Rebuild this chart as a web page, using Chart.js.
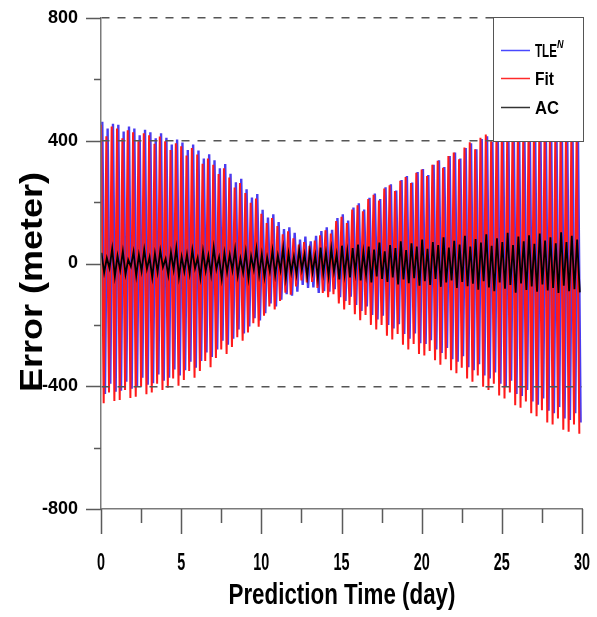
<!DOCTYPE html>
<html><head><meta charset="utf-8">
<script src="https://cdn.jsdelivr.net/npm/chart.js@4.4.1/dist/chart.umd.min.js"></script>
<style>html,body{margin:0;padding:0;background:#fff;}canvas{display:block;}</style>
</head><body>
<canvas id="c" width="597" height="617"></canvas>
<script>
// ---- data (3 oscillation cycles per day, one peak + one trough per cycle) ----
const cyclesPerDay = 3;
const fitTop = [
452,415,446, 440,408,434, 428,398,424, 418,390,414, 398,370,392, 382,352,376,
355,325,342, 322,292,310, 280,248,262, 230,198,212, 162,132,148, 122,95,105,
82,62,70, 58,75,92, 108,98,138, 152,132,176, 190,170,210, 224,205,244,
255,236,270, 282,262,296, 306,285,322, 335,312,350, 362,340,378, 395,372,410,
420,398,425, 428,402,432, 430,405,434, 432,408,436, 434,410,438, 436,412,432];
const fitBot = [
-455,-420,-448, -445,-412,-438, -434,-402,-426, -420,-392,-412, -405,-375,-398, -380,-350,-372,
-350,-318,-338, -308,-280,-295, -272,-240,-252, -225,-195,-206, -170,-140,-150, -122,-95,-102,
-75,-55,-62, -60,-80,-96, -110,-100,-130, -150,-135,-165, -185,-168,-200, -215,-200,-235,
-248,-230,-265, -280,-262,-295, -300,-285,-315, -330,-312,-348, -358,-340,-375, -385,-365,-402,
-412,-392,-430, -440,-420,-462, -470,-450,-488, -498,-478,-518, -525,-505,-542, -548,-525,-555];
const tleTop = [
462,440,455, 452,430,446, 440,418,436, 428,408,424, 410,388,404, 394,370,388,
368,342,356, 336,310,324, 292,265,276, 242,215,226, 175,150,160, 135,112,118,
100,78,88, 72,90,106, 118,110,148, 160,140,182, 196,176,214, 228,210,248,
258,238,272, 285,264,298, 308,288,322, 336,314,350, 362,342,376, 392,372,406,
415,396,420, 422,400,426, 424,402,428, 426,404,430, 428,406,430, 430,408,428];
const tleBot = [
-425,-392,-418, -415,-385,-408, -402,-372,-395, -390,-362,-382, -372,-345,-365, -348,-320,-340,
-318,-290,-305, -280,-252,-265, -245,-215,-228, -205,-178,-186, -162,-130,-140, -118,-100,-105,
-92,-70,-80, -78,-96,-90, -92,-84,-110, -122,-108,-135, -155,-140,-168, -182,-170,-200,
-212,-198,-230, -245,-228,-260, -262,-250,-280, -292,-275,-312, -320,-302,-338, -348,-328,-365,
-375,-355,-392, -402,-382,-425, -432,-412,-450, -460,-440,-480, -488,-468,-505, -510,-488,-518];
const acTop = [
35,18,48, 25,40,12, 38,28,45, 20,32,42, 15,36,50, 22,30,44,
18,40,26, 52,20,34, 28,46,16, 38,24,48, 30,20,42, 26,50,32,
22,44,30, 40,26,52, 35,48,30, 58,40,50, 62,38,55, 45,68,40,
60,50,72, 44,66,55, 78,48,70, 60,85,52, 74,62,90, 55,80,68,
95,58,82, 70,100,60, 88,72,92, 64,98,75, 85,66,102, 70,90,78];
const acBot = [
-30,-15,-42, -22,-35,-10, -40,-25,-18, -45,-28,-12, -38,-20,-44, -26,-32,-16,
-46,-24,-36, -18,-50,-28, -22,-40,-30, -48,-20,-36, -44,-26,-38, -22,-46,-30,
-35,-20,-42, -28,-48,-32, -40,-26,-52, -36,-45,-30, -55,-38,-62, -42,-50,-60,
-45,-68,-52, -64,-48,-72, -58,-70,-50, -76,-62,-55, -80,-60,-74, -66,-85,-58,
-78,-90,-62, -82,-70,-95, -65,-86,-75, -92,-68,-88, -80,-96,-72, -90,-84,-94];
const yTickLabels = [-800, -400, 0, 400, 800];
const xTickLabels = [0, 5, 10, 15, 20, 25, 30];
const dashedLevels = [800, 400, -400];
const seriesNames = ['TLE', 'Fit', 'AC'];
const xTitle = 'Prediction Time (day)';
const yTitle = 'Error (meter)';

function zigzag(top, bot, shift) {
  const pts = [];
  for (let i = 0; i < top.length; i++) {
    const t = i / cyclesPerDay + shift;
    pts.push({x: t, y: top[i]});
    pts.push({x: t + 0.5 / cyclesPerDay, y: bot[i]});
  }
  return pts;
}

function drawText(ctx, s, x, y, font, sx, align) {
  ctx.save();
  ctx.font = font;
  ctx.translate(x, y);
  ctx.scale(sx, 1);
  ctx.textAlign = align || 'center';
  ctx.textBaseline = 'alphabetic';
  ctx.fillStyle = '#000';
  ctx.fillText(s, 0, 0);
  ctx.restore();
}
function fitWidth(ctx, s, font, w) { ctx.save(); ctx.font = font; const m = ctx.measureText(s).width; ctx.restore(); return w / m; }

const decor = {
  id: 'decor',
  afterDraw(chart) {
    const ctx = chart.ctx, xs = chart.scales.x, ys = chart.scales.y, ca = chart.chartArea;
    ctx.save();
    ctx.strokeStyle = '#5a5a5a'; ctx.lineWidth = 1.5;
    ctx.beginPath();
    ys.ticks.forEach(t => {
      const py = Math.round(ys.getPixelForValue(t.value)) + 0.5;
      const len = yTickLabels.includes(t.value) ? 15 : 7;
      ctx.moveTo(ca.left - len, py); ctx.lineTo(ca.left, py);
    });
    xs.ticks.forEach(t => {
      const px = Math.round(xs.getPixelForValue(t.value)) + 0.5;
      const len = xTickLabels.includes(t.value) ? 25 : 14;
      ctx.moveTo(px, ca.bottom); ctx.lineTo(px, ca.bottom + len);
    });
    ctx.stroke();
    // x tick labels (condensed bold)
    xs.ticks.forEach(t => {
      if (!xTickLabels.includes(t.value)) return;
      drawText(ctx, String(t.value), xs.getPixelForValue(t.value), 570, 'bold 24px "Liberation Sans"', 0.6, 'center');
    });
    // axis titles
    const fx = 'bold 30px "Liberation Sans"';
    drawText(ctx, xTitle, 342, 604, fx, fitWidth(ctx, xTitle, fx, 227), 'center');
    const fy = 'bold 31px "Liberation Sans"';
    ctx.save();
    ctx.translate(42, 282); ctx.rotate(-Math.PI / 2);
    drawText(ctx, yTitle, 0, 0, fy, fitWidth(ctx, yTitle, fy, 220), 'center');
    ctx.restore();
    // legend
    ctx.fillStyle = '#fff';
    ctx.fillRect(493, 17, 91, 124);
    ctx.strokeStyle = '#555'; ctx.lineWidth = 1;
    ctx.strokeRect(493.5, 17.5, 90, 124);
    const cols = ['#4848ff', '#ff2a2a', '#333'];
    const ly = [50, 78, 107];
    const widths = [22, 19, 24];
    seriesNames.forEach((n, i) => {
      ctx.strokeStyle = cols[i]; ctx.lineWidth = 1.5;
      ctx.beginPath(); ctx.moveTo(501, ly[i] + 0.5); ctx.lineTo(530, ly[i] + 0.5); ctx.stroke();
      const f = 'bold 19px "Liberation Sans"';
      drawText(ctx, n, 535, ly[i] + 7, f, fitWidth(ctx, n, f, widths[i]), 'left');
    });
    drawText(ctx, 'N', 557, 48, 'italic bold 10px "Liberation Sans"', 0.9, 'left');
    ctx.restore();
  }
};

new Chart(document.getElementById('c'), {
  type: 'line',
  data: {datasets: [
    {label: seriesNames[2], data: zigzag(acTop, acBot, 0.03), borderColor: '#000', borderWidth: 1.8, pointRadius: 0, tension: 0, order: 1},
    {label: seriesNames[1], data: zigzag(fitTop, fitBot, 0), borderColor: '#ff1a1a', borderWidth: 2, pointRadius: 0, tension: 0, order: 2},
    {label: seriesNames[0], data: zigzag(tleTop, tleBot, 0.08), borderColor: '#4a3cf0', borderWidth: 2.4, pointRadius: 0, tension: 0, order: 3}
  ]},
  options: {
    responsive: false, animation: false, devicePixelRatio: 1,
    layout: {padding: {top: 18, right: 15, left: 0, bottom: 0}},
    plugins: {legend: {display: false}, tooltip: {enabled: false}},
    scales: {
      x: {type: 'linear', min: 0, max: 30,
        ticks: {stepSize: 2.5, display: false, autoSkip: false},
        grid: {display: false, drawTicks: false},
        border: {display: true, color: '#7a7a7a', width: 1.5},
        afterFit(s) { s.height = 108; s.paddingLeft = 0; s.paddingRight = 0; }},
      y: {type: 'linear', min: -800, max: 800,
        ticks: {stepSize: 200, autoSkip: false, padding: 23, color: '#000',
          font: {family: 'Liberation Sans', weight: 'bold', size: 18},
          callback: v => yTickLabels.includes(v) ? String(v) : ''},
        grid: {drawTicks: false, lineWidth: 1.5, z: 1,
          color: c => (c.tick && dashedLevels.includes(c.tick.value)) ? '#555' : 'rgba(0,0,0,0)'},
        border: {display: true, color: '#7a7a7a', width: 1.5, dash: [8, 8], z: 1},
        afterFit(s) { s.width = 101; s.paddingTop = 0; s.paddingBottom = 0; }}
    }
  },
  plugins: [decor]
});
</script>
</body></html>
